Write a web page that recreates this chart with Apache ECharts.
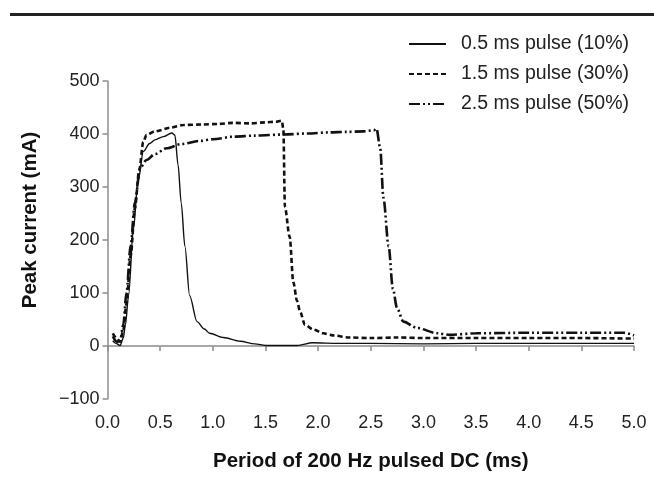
<!DOCTYPE html>
<html>
<head>
<meta charset="utf-8">
<script src="https://cdn.jsdelivr.net/npm/echarts@6/dist/echarts.min.js"></script>
<style>
html, body { margin: 0; padding: 0; background: #fff; }
#chart { width: 654px; height: 477px; }
</style>
</head>
<body>
<div id="chart"></div>
<script>
// period (ms) and peak current (mA)
var names = ['0.5 ms pulse (10%)', '1.5 ms pulse (30%)', '2.5 ms pulse (50%)'];

var x05 = [0.05, 0.08, 0.12, 0.15, 0.17, 0.2, 0.245, 0.29, 0.34, 0.4, 0.45, 0.53, 0.61, 0.64, 0.67, 0.7, 0.735, 0.78, 0.85, 0.92, 0.97, 1.1, 1.26, 1.4, 1.5, 1.65, 1.8, 1.95, 2.2, 2.5, 3.0, 3.5, 4.0, 4.5, 5.0];
var y05 = [10, 5, 1, 15, 40, 95, 219, 311, 367, 382, 389, 395, 402, 398, 342, 270, 188, 95, 46, 32, 24, 16, 9, 4, 1, 1, 1, 6, 5, 5, 4, 5, 5, 5, 5];

var x15 = [0.05, 0.09, 0.12, 0.15, 0.18, 0.22, 0.26, 0.3, 0.34, 0.37, 0.45, 0.6, 0.72, 0.9, 1.05, 1.19, 1.35, 1.5, 1.6, 1.655, 1.67, 1.685, 1.73, 1.765, 1.8, 1.83, 1.875, 1.955, 2.05, 2.14, 2.3, 2.5, 2.75, 3.0, 3.5, 4.0, 4.5, 5.0];
var y15 = [24, 14, 8, 30, 80, 170, 260, 330, 385, 398, 405, 412, 417, 418, 419, 421, 420, 422, 423, 425, 410, 262, 206, 120, 85, 64, 40, 31, 24, 20, 16, 15, 16, 15, 15, 15, 15, 14];

var x25 = [0.05, 0.09, 0.12, 0.15, 0.18, 0.22, 0.26, 0.31, 0.37, 0.45, 0.56, 0.7, 0.88, 1.0, 1.2, 1.4, 1.67, 1.9, 2.1, 2.27, 2.43, 2.53, 2.555, 2.59, 2.62, 2.67, 2.71, 2.75, 2.81, 2.94, 3.13, 3.25, 3.5, 4.0, 4.5, 4.9, 5.0];
var y25 = [18, 8, 10, 40, 100, 190, 270, 336, 351, 362, 373, 381, 387, 390, 395, 397, 399, 401, 403, 404, 405, 407, 410, 373, 280, 188, 108, 71, 46, 34, 24, 21, 24, 25, 25, 25, 20];

function pairs(xs, ys) {
    return xs.map(function (x, i) { return [x, ys[i]]; });
}

var font = 'Liberation Sans, Arial, Helvetica, sans-serif';
var axisGray = '#8c8c8c';

var chart = echarts.init(document.getElementById('chart'));

var option = {
    animation: false,
    backgroundColor: '#fff',
    textStyle: { fontFamily: font },
    graphic: [{
        type: 'rect',
        shape: { x: 10, y: 13, width: 644, height: 3 },
        style: { fill: '#222' }
    }],
    legend: {
        orient: 'vertical',
        left: 403,
        top: 29,
        itemWidth: 37,
        itemHeight: 20,
        itemGap: 10,
        data: names,
        itemStyle: { opacity: 0 },
        textStyle: { fontSize: 19.5, color: '#222', lineHeight: 20, padding: [0, 0, 0, 10] }
    },
    grid: {
        left: 107.5,
        right: 20,
        top: 81,
        bottom: 71.5
    },
    xAxis: {
        type: 'value',
        min: 0,
        max: 5,
        interval: 0.5,
        name: 'Period of 200 Hz pulsed DC (ms)',
        nameLocation: 'middle',
        nameGap: 52,
        nameTextStyle: { fontSize: 20.5, fontWeight: 'bold', color: '#111' },
        axisLine: { lineStyle: { color: axisGray, width: 1.5 } },
        axisTick: { length: 5, lineStyle: { color: axisGray, width: 1.5 } },
        axisLabel: {
            fontSize: 18, color: '#222', margin: 15,
            formatter: function (v) { return v.toFixed(1); }
        },
        splitLine: { show: false }
    },
    yAxis: {
        type: 'value',
        min: -100,
        max: 500,
        interval: 100,
        name: 'Peak current (mA)',
        nameLocation: 'middle',
        nameGap: 67,
        nameTextStyle: { fontSize: 20.5, fontWeight: 'bold', color: '#111', padding: [0, 0, 0, 40] },
        axisLine: { show: true, lineStyle: { color: axisGray, width: 1.5 } },
        axisTick: { show: true, length: 5, lineStyle: { color: axisGray, width: 1.5 } },
        axisLabel: {
            fontSize: 18, color: '#222', margin: 8,
            formatter: function (v) { return v < 0 ? '\u2212' + Math.abs(v) : String(v); }
        },
        splitLine: { show: false }
    },
    series: [
        {
            name: names[0],
            type: 'line',
            data: pairs(x05, y05),
            symbol: 'none',
            smooth: 0.3,
            smoothMonotone: 'x',
            lineStyle: { color: '#111', width: 1.4, type: 'solid' },
            itemStyle: { color: '#111' }
        },
        {
            name: names[1],
            type: 'line',
            data: pairs(x15, y15),
            symbol: 'none',
            smooth: 0.3,
            smoothMonotone: 'x',
            lineStyle: { color: '#111', width: 2.6, type: [5, 3] },
            itemStyle: { color: '#111' }
        },
        {
            name: names[2],
            type: 'line',
            data: pairs(x25, y25),
            symbol: 'none',
            smooth: 0.3,
            smoothMonotone: 'x',
            lineStyle: { color: '#111', width: 2.6, type: [11, 3, 2, 3, 2, 3] },
            itemStyle: { color: '#111' }
        }
    ]
};

chart.setOption(option);
</script>
</body>
</html>
